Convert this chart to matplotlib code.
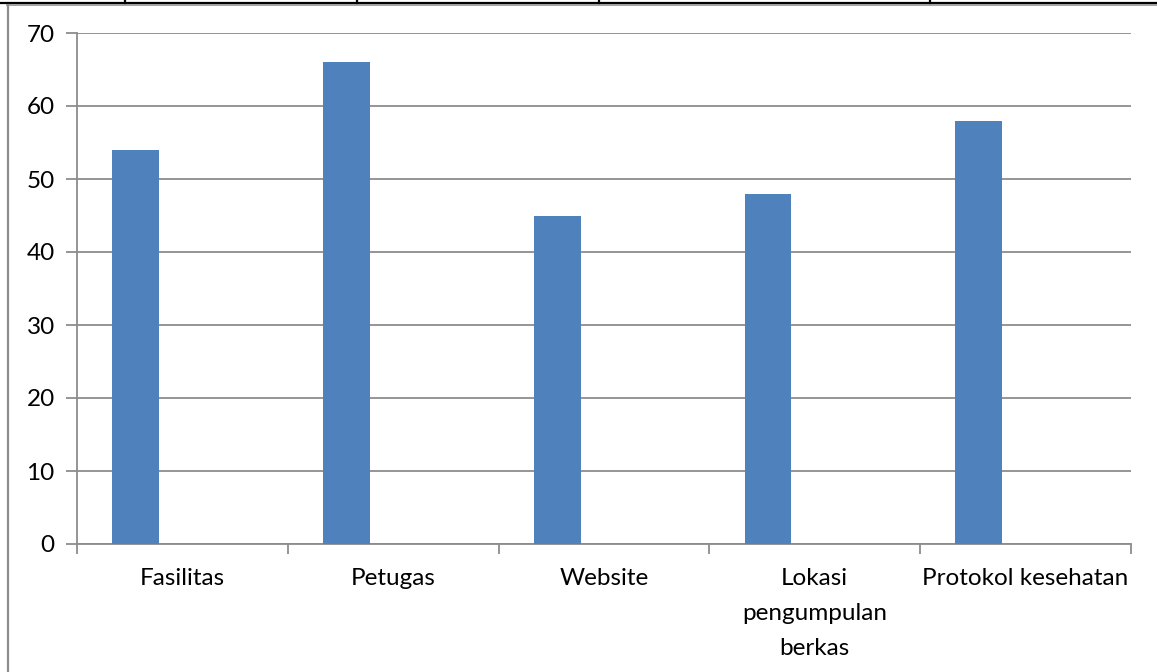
import matplotlib
matplotlib.use("Agg")
import matplotlib.pyplot as plt
from matplotlib.lines import Line2D
import numpy as np

categories = ["Fasilitas", "Petugas", "Website", "Lokasi\npengumpulan\nberkas", "Protokol kesehatan"]
values = [54, 66, 45, 48, 58]
yticks = [0, 10, 20, 30, 40, 50, 60, 70]

plt.rcParams['font.family'] = ['Lato', 'DejaVu Sans']

W, H = 1157, 672
fig = plt.figure(figsize=(W / 100, H / 100), dpi=100)
ax = fig.add_axes([77 / W, 1 - 544 / H, (1131 - 77) / W, (544 - 33) / H])

n = len(categories)
x = np.arange(n)
bw = 1 / 4.5
offset = -0.5 + 1.25 / 4.5
ax.bar(x + offset, values, width=bw, color="#4F81BD", zorder=3)

ax.set_xlim(-0.5, n - 0.5)
ax.set_ylim(0, 70)
ax.set_yticks(yticks)
ax.set_yticklabels([str(v) for v in yticks], fontsize=17.5)
ax.yaxis.grid(True, color="#8C8C8C", linewidth=1.3, zorder=0)
ax.set_xticks(np.arange(n + 1) - 0.5)
ax.set_xticklabels([])
ax.set_xticks(x, minor=True)
ax.set_xticklabels(categories, minor=True, fontsize=17.5, linespacing=1.8, va="top")
ax.tick_params(axis="x", which="minor", length=0, pad=17.5)
ax.tick_params(axis="x", which="major", length=7, width=1.3, color="#8C8C8C")
ax.tick_params(axis="y", length=8, width=1.3, color="#8C8C8C", pad=8)
for s in ["top", "right"]:
    ax.spines[s].set_visible(False)
for s in ["left", "bottom"]:
    ax.spines[s].set_color("#8C8C8C")
    ax.spines[s].set_linewidth(1.3)

# outer table / frame lines
def fx(px):
    return px / W
def fy(py):
    return 1 - py / H
fig.add_artist(Line2D([0, 1], [fy(2.5), fy(2.5)], color="black", linewidth=1.6, transform=fig.transFigure))
fig.add_artist(Line2D([fx(7), 1], [fy(5), fy(5)], color="#9A9A9A", linewidth=1.3, transform=fig.transFigure))
fig.add_artist(Line2D([fx(7.5), fx(7.5)], [fy(5), 0], color="#8C8C8C", linewidth=1.6, transform=fig.transFigure))
for px in [125, 357, 599, 930]:
    fig.add_artist(Line2D([fx(px), fx(px)], [1, fy(3)], color="black", linewidth=1.6, transform=fig.transFigure))

fig.savefig("out.png", dpi=100)
